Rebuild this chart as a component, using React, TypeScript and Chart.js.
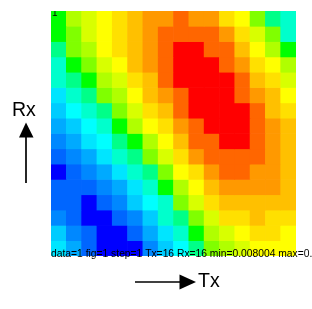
import React, { useEffect, useRef } from "react";
import { Chart, registerables } from "chart.js";

Chart.register(...registerables);

// Tx columns (1..16)
const txLabels = ["1","2","3","4","5","6","7","8","9","10","11","12","13","14","15","16"];

// discrete jet palette (level 0 = min, level 18 = max)
const palette = [
  "#0000FF", "#0066FF", "#0088FF", "#00AAFF", "#00CCFF", "#00E5FF", "#00FFFF",
  "#00FFCC", "#00FF88", "#00FF00", "#80FF00", "#B0FF00", "#D8FF00", "#FFFF00",
  "#FFE000", "#FFC000", "#FF9900", "#FF6600", "#FF0000",
];

// Rx rows, top to bottom; each value is a colour level
const rx16 = [9, 11, 12, 13, 14, 15, 16, 16, 17, 16, 16, 14, 13, 10, 8, 7];
const rx15 = [9, 10, 12, 13, 14, 15, 16, 17, 17, 17, 17, 16, 14, 12, 10, 7];
const rx14 = [8, 10, 11, 13, 14, 15, 16, 17, 18, 18, 17, 17, 15, 13, 11, 9];
const rx13 = [7, 9, 10, 12, 13, 15, 16, 17, 18, 18, 18, 17, 16, 14, 13, 11];
const rx12 = [7, 8, 9, 11, 12, 14, 15, 17, 18, 18, 18, 18, 17, 15, 14, 12];
const rx11 = [5, 7, 8, 10, 11, 13, 15, 16, 17, 18, 18, 18, 17, 16, 15, 13];
const rx10 = [4, 6, 7, 8, 10, 12, 14, 15, 17, 18, 18, 18, 18, 17, 15, 14];
const rx9 = [3, 4, 6, 7, 9, 11, 13, 14, 16, 17, 18, 18, 18, 17, 16, 15];
const rx8 = [2, 3, 5, 6, 8, 9, 11, 13, 15, 17, 17, 18, 18, 17, 16, 15];
const rx7 = [1, 2, 3, 5, 7, 8, 10, 12, 14, 16, 17, 17, 17, 17, 16, 15];
const rx6 = [0, 1, 2, 3, 5, 7, 8, 10, 13, 14, 16, 17, 17, 16, 16, 15];
const rx5 = [1, 1, 1, 2, 3, 5, 7, 9, 11, 13, 15, 16, 16, 16, 16, 15];
const rx4 = [1, 1, 0, 1, 2, 4, 6, 7, 10, 12, 14, 15, 15, 15, 15, 15];
const rx3 = [2, 1, 0, 0, 1, 2, 4, 7, 8, 10, 12, 14, 14, 15, 14, 14];
const rx2 = [4, 2, 1, 0, 0, 1, 3, 5, 7, 9, 11, 12, 13, 14, 14, 13];
const rx1 = [5, 3, 1, 0, 0, 0, 2, 4, 6, 8, 10, 11, 12, 13, 13, 13];

const rows = [rx16, rx15, rx14, rx13, rx12, rx11, rx10, rx9, rx8, rx7, rx6, rx5, rx4, rx3, rx2, rx1];

const infoText = "data=1 fig=1 step=1 Tx=16 Rx=16 min=0.008004 max=0.";
const cornerText = "1";

const overlay = {
  id: "overlay",
  afterDraw(chart: any) {
    const ctx = chart.ctx;
    const a = chart.chartArea;
    ctx.save();
    // corner label, clipped to image
    ctx.save();
    ctx.beginPath();
    ctx.rect(a.left, a.top, a.right - a.left, a.bottom - a.top);
    ctx.clip();
    ctx.fillStyle = "#000";
    ctx.font = '10px "Liberation Sans", Arial, sans-serif';
    ctx.textBaseline = "alphabetic";
    ctx.fillText(cornerText, a.left + 1, a.top + 5);
    ctx.restore();

    ctx.fillStyle = "#000";
    ctx.font = '10.3px "Liberation Sans", Arial, sans-serif';
    ctx.textBaseline = "alphabetic";
    ctx.fillText(infoText, a.left, a.bottom + 1);

    // Rx label + up arrow
    ctx.font = '19.5px "Liberation Sans", Arial, sans-serif';
    ctx.fillText("Rx", 12, 116);
    ctx.strokeStyle = "#000";
    ctx.lineWidth = 1.7;
    ctx.beginPath();
    ctx.moveTo(26, 183);
    ctx.lineTo(26, 136);
    ctx.stroke();
    ctx.beginPath();
    ctx.moveTo(26, 122.5);
    ctx.lineTo(19, 137.5);
    ctx.lineTo(33.5, 137.5);
    ctx.closePath();
    ctx.fill();

    // Tx label + right arrow
    ctx.fillText("Tx", 198, 287);
    ctx.beginPath();
    ctx.moveTo(135, 282);
    ctx.lineTo(181, 282);
    ctx.stroke();
    ctx.beginPath();
    ctx.moveTo(196, 282);
    ctx.lineTo(179.5, 274.5);
    ctx.lineTo(179.5, 289.5);
    ctx.closePath();
    ctx.fill();
    ctx.restore();
  },
};

export default function App() {
  const ref = useRef<HTMLCanvasElement | null>(null);
  useEffect(() => {
    if (!ref.current) return;
    const datasets = rows.map((row, i) => ({
      label: "Rx" + (16 - i),
      data: row.map(() => 1),
      backgroundColor: row.map((v) => palette[v]),
      borderWidth: 0,
      barPercentage: 1,
      categoryPercentage: 1,
      stack: "grid",
    }));
    const chart = new Chart(ref.current, {
      type: "bar",
      data: { labels: txLabels, datasets },
      options: {
        responsive: false,
        animation: false,
        events: [],
        layout: { padding: { left: 51, top: 11, right: 16, bottom: 53 } },
        plugins: { legend: { display: false }, tooltip: { enabled: false } },
        scales: {
          x: { display: false, stacked: true },
          y: { display: false, stacked: true, min: 0, max: 16, reverse: true },
        },
      },
      plugins: [overlay],
    });
    return () => chart.destroy();
  }, []);
  return (
    <div style={{ position: "fixed", left: 0, top: 0, width: 312, height: 309, background: "#fff" }}>
      <canvas ref={ref} width={312} height={309} style={{ width: 312, height: 309, display: "block" }} />
    </div>
  );
}
